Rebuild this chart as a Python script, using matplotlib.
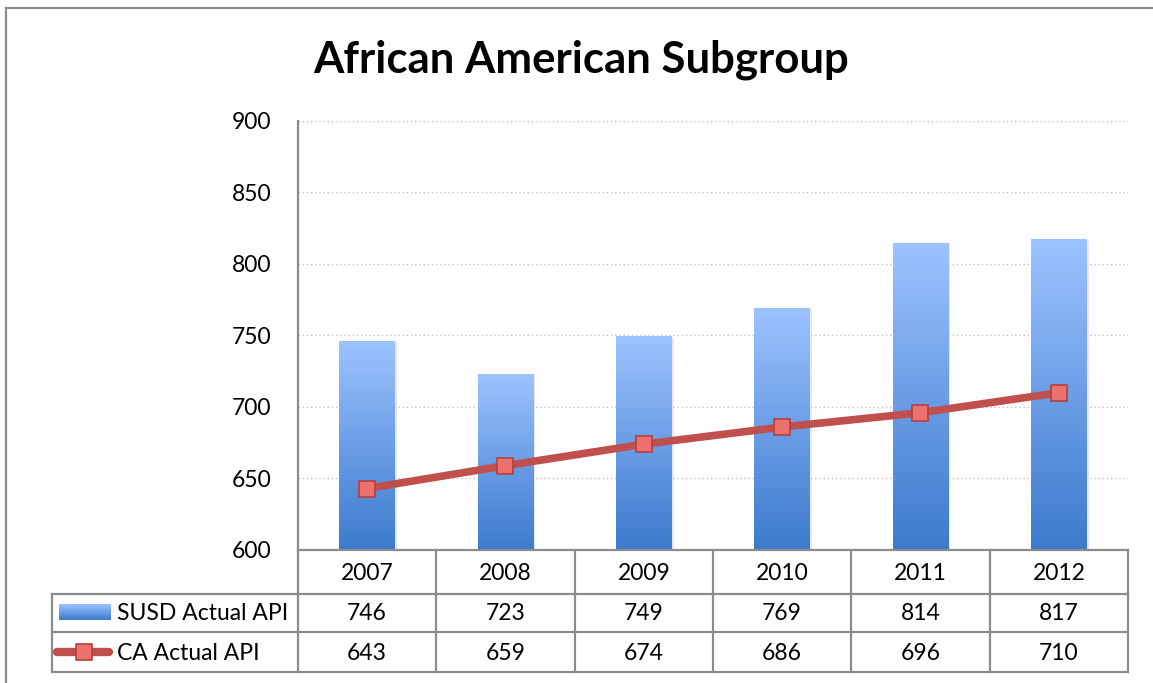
import numpy as np
import matplotlib
matplotlib.use("Agg")
import matplotlib.pyplot as plt
import matplotlib.transforms as mtransforms
from matplotlib.colors import LinearSegmentedColormap
from matplotlib.lines import Line2D

# ---- data ----
years = ["2007", "2008", "2009", "2010", "2011", "2012"]
susd_api = [746, 723, 749, 769, 814, 817]
ca_api = [643, 659, 674, 686, 696, 710]
series_names = ["SUSD Actual API", "CA Actual API"]
title = "African American Subgroup"
y_ticks = [600, 650, 700, 750, 800, 850, 900]

plt.rcParams['font.family'] = ['Lato', 'DejaVu Sans']

W, H = 1153, 683
fig = plt.figure(figsize=(W / 100, H / 100), dpi=100)

def fx(x):
    return x / W

def fy(y):
    return 1 - y / H

# outer border (left and top)
fig.add_artist(Line2D([fx(6), fx(6)], [fy(8), 0], transform=fig.transFigure, color='#8c8c8c', lw=1.6))
fig.add_artist(Line2D([fx(6), 1], [fy(8), fy(8)], transform=fig.transFigure, color='#8c8c8c', lw=1.6))

ax_l, ax_r, ax_t, ax_b = 298, 1128, 121, 550
ax = fig.add_axes([fx(ax_l), fy(ax_b), (ax_r - ax_l) / W, (ax_b - ax_t) / H])

x = np.arange(len(years))
cmap_bar = LinearSegmentedColormap.from_list('bar', ['#3c7bcc', '#6b9ee6', '#9dc3ff'])
bars = ax.bar(x, [v - 600 for v in susd_api], bottom=600, width=0.4, facecolor='none', edgecolor='none', zorder=2)
grad = np.linspace(0, 1, 256).reshape(-1, 1)
for b in bars:
    x0, y0 = b.get_x(), b.get_y()
    w, h = b.get_width(), b.get_height()
    # subtle shadow
    ax.imshow(np.ones((2, 2)), extent=[x0 + 0.012, x0 + w + 0.012, y0, y0 + h - 1.0],
              cmap=LinearSegmentedColormap.from_list('s', ['#d9d9d9', '#d9d9d9']),
              aspect='auto', zorder=1.8, alpha=0.6, origin='lower')
    ax.imshow(grad, extent=[x0, x0 + w, y0, y0 + h], cmap=cmap_bar, aspect='auto',
              origin='lower', zorder=2)

ax.plot(x, ca_api, color='#c0504d', lw=5.5, zorder=3, solid_capstyle='butt',
        marker='s', markersize=11.5, markerfacecolor='#ec706e', markeredgecolor='#b4403e',
        markeredgewidth=1.2)

ax.set_xlim(-0.5, len(years) - 0.5)
ax.set_ylim(600, 900)
ax.set_yticks(y_ticks)
ax.set_yticklabels([str(t) for t in y_ticks], fontsize=16.5)
ax.tick_params(axis='y', length=0, pad=19)
ax.set_xticks([])
for yv in y_ticks[1:]:
    ax.axhline(yv, color='#c0c0c0', lw=1.0, ls=(0, (1, 2)), zorder=1)
for s in ['top', 'right']:
    ax.spines[s].set_visible(False)
ax.spines['left'].set_color('#8c8c8c')
ax.spines['left'].set_linewidth(1.6)
ax.spines['bottom'].set_color('#8c8c8c')
ax.spines['bottom'].set_linewidth(1.6)

fig.text(fx(581), fy(73), title, fontsize=31.5, fontweight='bold', ha='center', va='baseline')

# ---- data table ----
gc = '#8c8c8c'
lw_t = 1.6
row_lines = [594, 632, 672]
for ry in row_lines:
    fig.add_artist(Line2D([fx(52), fx(ax_r)], [fy(ry), fy(ry)], transform=fig.transFigure, color=gc, lw=lw_t))
fig.add_artist(Line2D([fx(52), fx(52)], [fy(594), fy(672)], transform=fig.transFigure, color=gc, lw=lw_t))
fig.add_artist(Line2D([fx(ax_l), fx(ax_l)], [fy(550), fy(672)], transform=fig.transFigure, color=gc, lw=lw_t))

col_w = (ax_r - ax_l) / len(years)
for i in range(1, len(years) + 1):
    cx = ax_l + i * col_w
    fig.add_artist(Line2D([fx(cx), fx(cx)], [fy(550), fy(672)], transform=fig.transFigure, color=gc, lw=lw_t))

trans = mtransforms.blended_transform_factory(ax.transData, fig.transFigure)
for i, yr in enumerate(years):
    fig.text(i, fy(573), yr, transform=trans, ha='center', va='center', fontsize=16.5)
    fig.text(i, fy(613), str(susd_api[i]), transform=trans, ha='center', va='center', fontsize=16.5)
    fig.text(i, fy(653), str(ca_api[i]), transform=trans, ha='center', va='center', fontsize=16.5)

# legend keys
kax = fig.add_axes([fx(59), fy(620), 52 / W, 16 / H])
kax.imshow(grad, cmap=cmap_bar, aspect='auto', origin='lower', extent=[0, 1, 0, 1])
kax.axis('off')
fig.add_artist(Line2D([fx(57), fx(109)], [fy(652), fy(652)], transform=fig.transFigure,
                      color='#c0504d', lw=6, solid_capstyle='round'))
fig.add_artist(Line2D([fx(84)], [fy(652)], transform=fig.transFigure, marker='s', markersize=11.5,
                      markerfacecolor='#ec706e', markeredgecolor='#b4403e', markeredgewidth=1.2, lw=0))
fig.text(fx(117), fy(613), series_names[0], ha='left', va='center', fontsize=16.5)
fig.text(fx(117), fy(653), series_names[1], ha='left', va='center', fontsize=16.5)

fig.savefig('out.png', dpi=100)
